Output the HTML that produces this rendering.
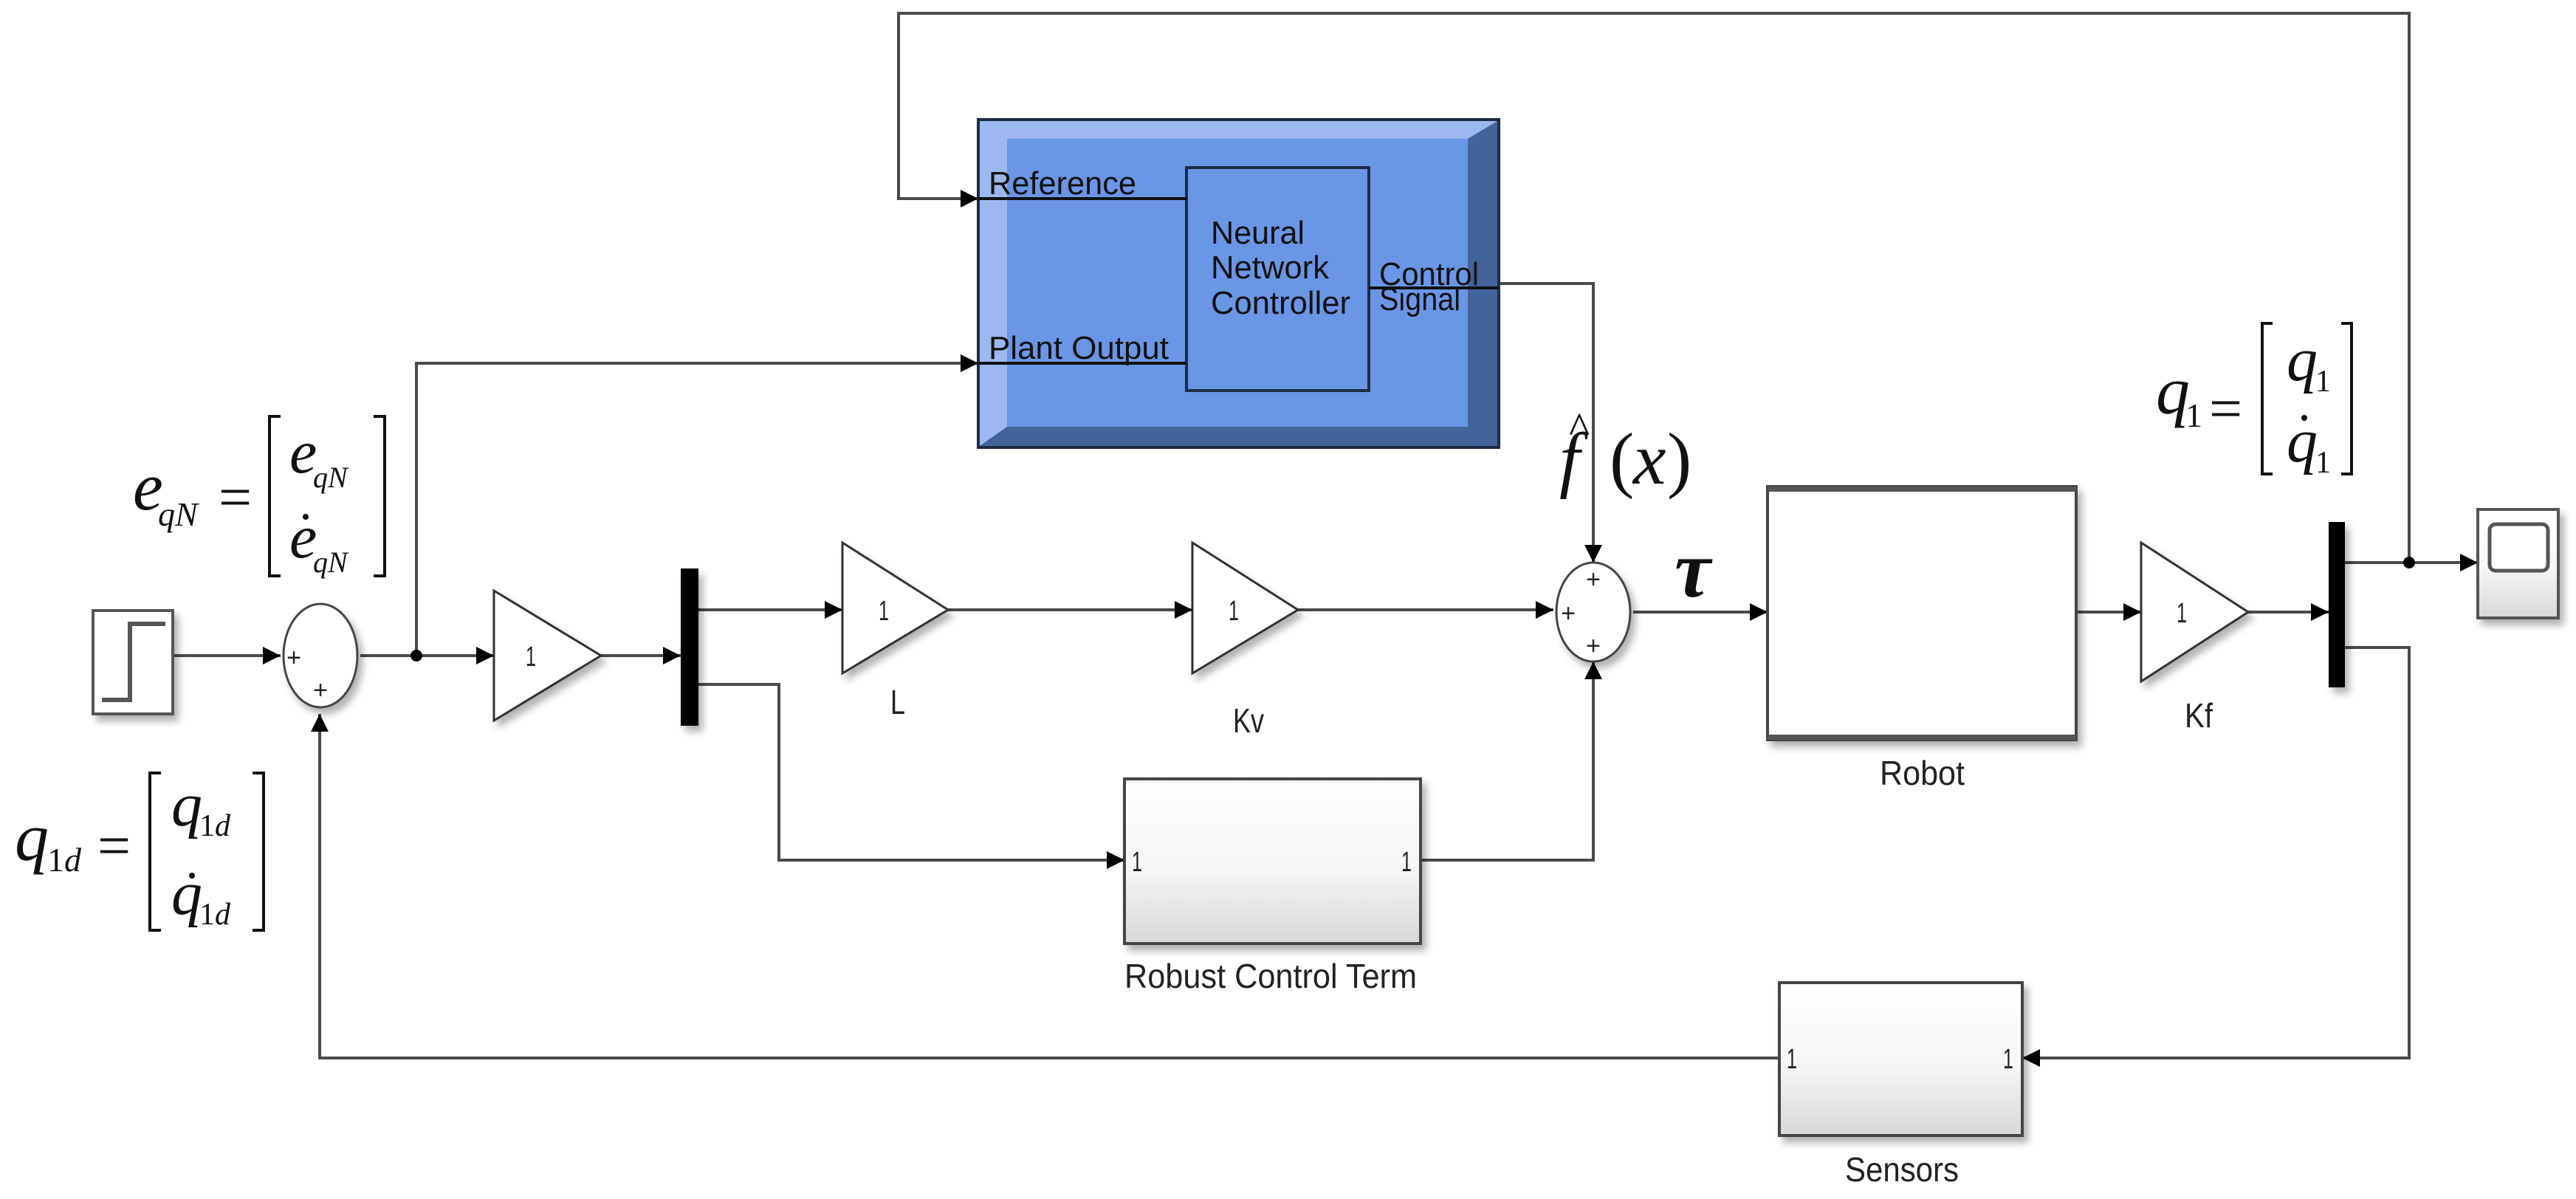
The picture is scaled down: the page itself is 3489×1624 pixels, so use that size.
<!DOCTYPE html>
<html><head><meta charset="utf-8"><style>html,body{margin:0;padding:0;background:#fff}svg{display:block}</style></head><body>
<svg width="3489" height="1624" viewBox="0 0 3489 1624" xmlns="http://www.w3.org/2000/svg">
<defs>
<linearGradient id="g" x1="0" y1="0" x2="0" y2="1"><stop offset="0" stop-color="#ffffff"/><stop offset="0.55" stop-color="#f6f6f6"/><stop offset="1" stop-color="#d8d8d8"/></linearGradient>
<filter id="sh" x="-10%" y="-10%" width="130%" height="130%"><feDropShadow dx="6" dy="8" stdDeviation="5" flood-color="#000" flood-opacity="0.3"/></filter>
</defs>
<g fill="none" stroke="#4a4a4a" stroke-width="4">
<line x1="234" y1="888" x2="380" y2="888"/>
<line x1="488" y1="888" x2="669" y2="888"/>
<line x1="814" y1="888" x2="922" y2="888"/>
<line x1="946" y1="826" x2="1141" y2="826"/>
<line x1="1284" y1="826" x2="1615" y2="826"/>
<line x1="1758" y1="826" x2="2104" y2="826"/>
<line x1="2212" y1="829" x2="2394" y2="829"/>
<line x1="2812" y1="829" x2="2900" y2="829"/>
<line x1="3045" y1="829" x2="3154" y2="829"/>
<polyline points="946,927 1055,927 1055,1165 1523,1165"/>
<polyline points="1924,1165 2158,1165 2158,896"/>
<polyline points="2030,384 2158,384 2158,762"/>
<line x1="3176" y1="762" x2="3356" y2="762"/>
<polyline points="3263,762 3263,18 1217,18 1217,269 1325,269"/>
<polyline points="3176,877 3263,877 3263,1433 2739,1433"/>
<polyline points="2410,1433 433,1433 433,967"/>
<polyline points="564,888 564,492 1325,492"/>
</g>
<g fill="#000">
<polygon points="380,888 356,876 356,900"/>
<polygon points="669,888 645,876 645,900"/>
<polygon points="922,888 898,876 898,900"/>
<polygon points="1141,826 1117,814 1117,838"/>
<polygon points="1615,826 1591,814 1591,838"/>
<polygon points="2104,826 2080,814 2080,838"/>
<polygon points="2394,829 2370,817 2370,841"/>
<polygon points="2900,829 2876,817 2876,841"/>
<polygon points="3154,829 3130,817 3130,841"/>
<polygon points="1523,1165 1499,1153 1499,1177"/>
<polygon points="2158,896 2146,920 2170,920"/>
<polygon points="2158,762 2146,738 2170,738"/>
<polygon points="3356,762 3332,750 3332,774"/>
<polygon points="1325,269 1301,257 1301,281"/>
<polygon points="1325,492 1301,480 1301,504"/>
<polygon points="2739,1433 2763,1421 2763,1445"/>
<polygon points="433,967 421,991 445,991"/>
<circle cx="564" cy="888" r="8"/>
<circle cx="3263" cy="762" r="8"/>
</g>
<rect x="1325" y="162" width="705" height="444" fill="#44639a" stroke="#1d2b45" stroke-width="4"/>
<polygon points="1327,164 2028,164 1988,188 1364,188 1364,578 1327,604" fill="#9db8ee"/>
<rect x="1364" y="188" width="624" height="390" fill="#6a96e6"/>
<rect x="1607" y="227" width="247" height="302" fill="#6a96e6" stroke="#1d2b45" stroke-width="4"/>
<g stroke="#111" stroke-width="4">
<line x1="1325" y1="269" x2="1607" y2="269"/>
<line x1="1325" y1="492" x2="1607" y2="492"/>
<line x1="1854" y1="390" x2="2030" y2="390"/>
</g>
<g font-family="Liberation Sans, sans-serif" font-size="44" fill="#111">
<text x="1339" y="263" textLength="200" lengthAdjust="spacingAndGlyphs">Reference</text>
<text x="1339" y="486" textLength="244" lengthAdjust="spacingAndGlyphs">Plant Output</text>
<text x="1640" y="330" textLength="127" lengthAdjust="spacingAndGlyphs">Neural</text>
<text x="1640" y="377" textLength="160" lengthAdjust="spacingAndGlyphs">Network</text>
<text x="1640" y="425" textLength="189" lengthAdjust="spacingAndGlyphs">Controller</text>
<text x="1868" y="386" textLength="135" lengthAdjust="spacingAndGlyphs">Control</text>
<text x="1868" y="420" textLength="110" lengthAdjust="spacingAndGlyphs">Signal</text>
</g>
<g filter="url(#sh)">
<rect x="126" y="827" width="108" height="140" fill="#fff" stroke="#555" stroke-width="4"/>
<ellipse cx="434" cy="888" rx="50" ry="70" fill="#fff" stroke="#444" stroke-width="3"/>
<polygon points="669,800 669,976 814,888" fill="#fff" stroke="#333" stroke-width="3"/>
<rect x="922" y="770" width="24" height="213" fill="#000"/>
<polygon points="1141,735 1141,912 1284,826" fill="#fff" stroke="#333" stroke-width="3"/>
<polygon points="1615,735 1615,912 1758,826" fill="#fff" stroke="#333" stroke-width="3"/>
<rect x="1523" y="1055" width="401" height="223" fill="url(#g)" stroke="#444" stroke-width="4"/>
<ellipse cx="2158" cy="829" rx="50" ry="67" fill="#fff" stroke="#444" stroke-width="3"/>
<rect x="2394" y="659" width="418" height="343" fill="#fff" stroke="#444" stroke-width="4"/>
<polygon points="2900,735 2900,923 3045,829" fill="#fff" stroke="#333" stroke-width="3"/>
<rect x="3154" y="707" width="22" height="224" fill="#000"/>
<rect x="3356" y="690" width="109" height="147" fill="url(#g)" stroke="#555" stroke-width="4"/>
<rect x="2410" y="1331" width="329" height="207" fill="url(#g)" stroke="#444" stroke-width="4"/>
</g>
<rect x="2394" y="659" width="418" height="7" fill="#555"/>
<rect x="2394" y="995" width="418" height="7" fill="#555"/>
<rect x="3372" y="710" width="79" height="63" rx="8" fill="#fff" stroke="#555" stroke-width="5"/>
<polyline points="138,948 176,948 176,845 224,845" fill="none" stroke="#555" stroke-width="6"/>
<g font-family="Liberation Sans, sans-serif" fill="#222">
<text x="398" y="902" font-size="34" text-anchor="middle">+</text>
<text x="434" y="946" font-size="34" text-anchor="middle">+</text>
<text x="2158" y="796" font-size="34" text-anchor="middle">+</text>
<text x="2124" y="842" font-size="34" text-anchor="middle">+</text>
<text x="2158" y="886" font-size="34" text-anchor="middle">+</text>
<text x="712" y="902" font-size="38" textLength="14" lengthAdjust="spacingAndGlyphs">1</text>
<text x="1190" y="840" font-size="38" textLength="14" lengthAdjust="spacingAndGlyphs">1</text>
<text x="1664" y="840" font-size="38" textLength="14" lengthAdjust="spacingAndGlyphs">1</text>
<text x="2948" y="843" font-size="38" textLength="14" lengthAdjust="spacingAndGlyphs">1</text>
<text x="1533" y="1180" font-size="38" textLength="14" lengthAdjust="spacingAndGlyphs">1</text>
<text x="1898" y="1180" font-size="38" textLength="14" lengthAdjust="spacingAndGlyphs">1</text>
<text x="2420" y="1447" font-size="38" textLength="14" lengthAdjust="spacingAndGlyphs">1</text>
<text x="2713" y="1447" font-size="38" textLength="14" lengthAdjust="spacingAndGlyphs">1</text>
<text x="1206" y="967" font-size="46" textLength="20" lengthAdjust="spacingAndGlyphs">L</text>
<text x="1670" y="992" font-size="46" textLength="42" lengthAdjust="spacingAndGlyphs">Kv</text>
<text x="2959" y="985" font-size="46" textLength="38" lengthAdjust="spacingAndGlyphs">Kf</text>
<text x="2546" y="1063" font-size="46" textLength="115" lengthAdjust="spacingAndGlyphs">Robot</text>
<text x="1523" y="1338" font-size="46" textLength="396" lengthAdjust="spacingAndGlyphs">Robust Control Term</text>
<text x="2499" y="1600" font-size="46" textLength="154" lengthAdjust="spacingAndGlyphs">Sensors</text>
</g>
<g font-family="Liberation Serif, serif" font-style="italic" fill="#111">
<text x="180" y="690" font-size="92">e</text>
<text x="214" y="712" font-size="46">qN</text>
<text x="392" y="640" font-size="84">e</text>
<text x="424" y="660" font-size="40">qN</text>
<text x="392" y="755" font-size="84">e</text>
<text x="424" y="775" font-size="40">qN</text>
<text x="20" y="1165" font-size="92">q</text>
<text x="64" y="1180" font-size="46"><tspan font-style="normal">1</tspan>d</text>
<text x="232" y="1118" font-size="84">q</text>
<text x="270" y="1132" font-size="42"><tspan font-style="normal">1</tspan>d</text>
<text x="232" y="1238" font-size="84">q</text>
<text x="270" y="1252" font-size="42"><tspan font-style="normal">1</tspan>d</text>
<text x="2920" y="560" font-size="92">q</text>
<text x="2960" y="578" font-size="46" font-style="normal">1</text>
<text x="3097" y="515" font-size="84">q</text>
<text x="3136" y="530" font-size="42" font-style="normal">1</text>
<text x="3097" y="625" font-size="84">q</text>
<text x="3136" y="640" font-size="42" font-style="normal">1</text>
<text x="2112" y="655" font-size="100">f</text>
<text x="2180" y="655" font-size="100" font-style="normal">(</text>
<text x="2212" y="655" font-size="100">x</text>
<text x="2258" y="655" font-size="100" font-style="normal">)</text>
<text x="2268" y="808" font-size="110" font-weight="bold">τ</text>
</g>
<g font-family="Liberation Serif, serif" fill="#111">
<text x="2125" y="600" font-size="60">^</text>
<text x="296" y="700" font-size="80">=</text>
<text x="132" y="1172" font-size="80">=</text>
<text x="2992" y="580" font-size="80">=</text>
</g>
<g fill="#111">
<circle cx="414" cy="700" r="4"/>
<circle cx="260" cy="1186" r="4"/>
<circle cx="3121" cy="566" r="4"/>
</g>
<g fill="none" stroke="#111" stroke-width="4">
<polyline points="380,564 365,564 365,780 380,780"/>
<polyline points="506,564 521,564 521,780 506,780"/>
<polyline points="218,1047 203,1047 203,1260 218,1260"/>
<polyline points="342,1047 357,1047 357,1260 342,1260"/>
<polyline points="3078,438 3064,438 3064,642 3078,642"/>
<polyline points="3171,438 3185,438 3185,642 3171,642"/>
</g>
</svg>
</body></html>
